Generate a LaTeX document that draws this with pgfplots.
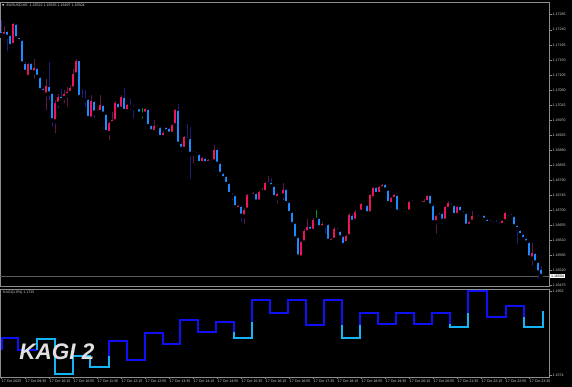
\documentclass[border=0pt]{standalone}
\usepackage{pgfplots}
\pgfplotsset{compat=1.18}
\usepackage{pgfplotstable}
\usepackage{fontspec}
\setmainfont{Liberation Sans}
\newfontfamily\dejavu{DejaVu Sans}
\definecolor{axgray}{HTML}{8C8C8C}
\definecolor{lbl}{HTML}{D2D2D2}
\definecolor{bearB}{HTML}{1E8CFF}
\definecolor{bullP}{HTML}{F0145F}
\definecolor{wickB}{HTML}{1C1C7A}
\definecolor{wickP}{HTML}{5C1A4A}
\definecolor{dojiG}{HTML}{00A000}
\definecolor{kagiB}{HTML}{1010F5}
\definecolor{kagiC}{HTML}{14B4F5}
\definecolor{pline}{HTML}{5A5A5A}
\newcommand\tf{\fontsize{3.6}{4.3}\selectfont}

% bearish candles (blue): x open high low close
\pgfplotstableread{
x o h l c
1 1.17234 1.17269 1.17222 1.17224
7 1.17234 1.17236 1.17169 1.17219
10 1.17222 1.17224 1.17188 1.17191
16 1.17254 1.17256 1.17212 1.17214
19 1.17214 1.17216 1.17204 1.17206
22 1.17206 1.17208 1.17137 1.17139
25 1.17139 1.17144 1.17109 1.17114
31 1.17139 1.17141 1.17104 1.17114
37 1.17124 1.17126 1.17094 1.17099
40 1.17096 1.17099 1.17056 1.17059
43 1.17062 1.17066 1.17049 1.17054
49 1.17069 1.17144 1.17024 1.17049
52 1.17049 1.17051 1.16944 1.16969
61 1.17039 1.17064 1.17024 1.17029
79 1.17146 1.17148 1.17036 1.17039
82 1.17039 1.17064 1.17029 1.17032
85 1.17034 1.17059 1.17004 1.17029
88 1.17029 1.17032 1.16972 1.16976
94 1.17024 1.17026 1.16969 1.16992
103 1.17012 1.17014 1.16986 1.16989
106 1.16986 1.16989 1.16932 1.16934
118 1.17019 1.17022 1.16999 1.17002
124 1.17036 1.17066 1.16994 1.16997
130 1.17014 1.17032 1.16994 1.17009
133 1.17011 1.17014 1.16969 1.17006
136 1.17006 1.17009 1.16999 1.17002
139 1.17002 1.17004 1.16986 1.16989
148 1.17001 1.17004 1.16949 1.16952
151 1.16952 1.16954 1.16932 1.16936
157 1.16949 1.16954 1.16942 1.16946
160 1.16946 1.16949 1.16916 1.16919
166 1.16946 1.16949 1.16934 1.16936
169 1.16944 1.16947 1.16926 1.16929
178 1.16996 1.17019 1.16896 1.16899
181 1.16899 1.16902 1.16869 1.16884
187 1.16919 1.16959 1.16909 1.16912
190 1.16914 1.16949 1.16789 1.16869
196 1.16872 1.16874 1.16864 1.16866
199 1.16866 1.16869 1.16839 1.16841
205 1.16854 1.16856 1.16839 1.16841
211 1.16851 1.16854 1.16844 1.16846
217 1.16881 1.16884 1.16836 1.16839
220 1.16839 1.16842 1.16806 1.16809
223 1.16809 1.16812 1.16794 1.16796
226 1.16799 1.16802 1.16776 1.16779
229 1.16779 1.16782 1.16746 1.16749
232 1.16749 1.16752 1.16724 1.16742
235 1.16742 1.16744 1.16706 1.16709
241 1.16709 1.16712 1.16659 1.16684
250 1.16749 1.16752 1.16741 1.16744
256 1.16749 1.16752 1.16722 1.16726
271 1.16782 1.16796 1.16769 1.16772
274 1.16769 1.16772 1.16736 1.16739
280 1.16749 1.16752 1.16741 1.16744
286 1.16761 1.16764 1.16719 1.16722
289 1.16722 1.16724 1.16689 1.16692
292 1.16692 1.16694 1.16656 1.16659
295 1.16659 1.16662 1.16612 1.16616
298 1.16616 1.16619 1.16549 1.16562
310 1.16649 1.16652 1.16634 1.16639
319 1.16674 1.16677 1.16646 1.16649
325 1.16656 1.16659 1.16624 1.16654
328 1.16656 1.16659 1.16606 1.16609
337 1.16642 1.16646 1.16632 1.16636
340 1.16636 1.16639 1.16616 1.16619
343 1.16619 1.16622 1.16594 1.16596
352 1.16684 1.16688 1.16662 1.16666
358 1.16696 1.16700 1.16690 1.16694
364 1.16717 1.16720 1.16708 1.16712
367 1.16712 1.16715 1.16688 1.16691
376 1.16766 1.16769 1.16746 1.16749
385 1.16776 1.16779 1.16759 1.16762
388 1.16759 1.16762 1.16719 1.16722
397 1.16744 1.16747 1.16693 1.16696
400 1.16696 1.16699 1.16679 1.16691
412 1.16726 1.16732 1.16719 1.16722
415 1.16722 1.16725 1.16714 1.16719
418 1.16722 1.16725 1.16716 1.16719
430 1.16742 1.16745 1.16711 1.16714
433 1.16714 1.16717 1.16661 1.16664
442 1.16689 1.16692 1.16654 1.16669
451 1.16719 1.16722 1.16709 1.16712
454 1.16712 1.16715 1.16683 1.16686
460 1.16711 1.16714 1.16691 1.16694
463 1.16694 1.16697 1.16686 1.16689
466 1.16689 1.16692 1.16651 1.16654
475 1.16684 1.16687 1.16676 1.16679
478 1.16682 1.16685 1.16674 1.16677
484 1.16684 1.16687 1.16669 1.16672
487 1.16672 1.16675 1.16659 1.16662
493 1.16666 1.16669 1.16656 1.16659
496 1.16662 1.16672 1.16656 1.16659
499 1.16662 1.16665 1.16653 1.16656
508 1.16682 1.16685 1.16674 1.16677
514 1.16679 1.16682 1.16649 1.16652
517 1.16652 1.16655 1.16594 1.16644
520 1.16639 1.16642 1.16623 1.16626
523 1.16626 1.16629 1.16611 1.16614
526 1.16614 1.16617 1.16601 1.16604
529 1.16604 1.16607 1.16556 1.16559
535 1.16569 1.16572 1.16541 1.16544
538 1.16544 1.16547 1.16489 1.16514
541 1.16522 1.16535 1.16497 1.16504
}\bears

% bullish candles (pink)
\pgfplotstableread{
x o h l c
4 1.17222 1.17252 1.17209 1.17234
13 1.17194 1.17259 1.17179 1.17256
28 1.17099 1.17141 1.17094 1.17139
34 1.17112 1.17154 1.17089 1.17126
46 1.17046 1.17094 1.16994 1.17072
55 1.16966 1.17029 1.16924 1.17022
58 1.17019 1.17049 1.16999 1.17039
64 1.17036 1.17059 1.17014 1.17049
67 1.17044 1.17069 1.17004 1.17054
70 1.17051 1.17074 1.17044 1.17066
73 1.17064 1.17122 1.17059 1.17109
76 1.17106 1.17154 1.17102 1.17146
91 1.16974 1.17044 1.16964 1.17026
97 1.16994 1.17004 1.16989 1.16999
100 1.16994 1.17044 1.16991 1.17014
109 1.16931 1.16964 1.16904 1.16961
112 1.16961 1.16994 1.16954 1.16969
115 1.16966 1.17026 1.16962 1.17022
121 1.17004 1.17046 1.17001 1.17039
127 1.16996 1.17018 1.16994 1.17014
145 1.16989 1.17006 1.16984 1.17004
154 1.16934 1.16969 1.16931 1.16952
163 1.16919 1.16936 1.16909 1.16932
172 1.16929 1.16959 1.16926 1.16956
175 1.16954 1.17002 1.16952 1.16999
184 1.16884 1.16922 1.16882 1.16919
193 1.16869 1.16879 1.16834 1.16872
202 1.16841 1.16859 1.16838 1.16856
208 1.16842 1.16854 1.16839 1.16852
214 1.16846 1.16894 1.16844 1.16881
238 1.16704 1.16717 1.16701 1.16714
244 1.16682 1.16706 1.16654 1.16702
247 1.16702 1.16750 1.16699 1.16747
253 1.16744 1.16756 1.16741 1.16752
259 1.16726 1.16759 1.16724 1.16756
262 1.16754 1.16766 1.16751 1.16762
265 1.16754 1.16786 1.16751 1.16782
268 1.16779 1.16802 1.16776 1.16786
277 1.16736 1.16752 1.16714 1.16749
283 1.16744 1.16782 1.16724 1.16761
301 1.16559 1.16609 1.16554 1.16606
304 1.16604 1.16644 1.16601 1.16639
307 1.16634 1.16674 1.16631 1.16649
313 1.16639 1.16676 1.16636 1.16672
322 1.16649 1.16664 1.16646 1.16659
331 1.16606 1.16617 1.16599 1.16614
334 1.16612 1.16649 1.16609 1.16644
346 1.16602 1.16626 1.16592 1.16622
349 1.16622 1.16691 1.16619 1.16686
355 1.16669 1.16700 1.16666 1.16696
361 1.16696 1.16722 1.16693 1.16719
370 1.16691 1.16749 1.16688 1.16746
373 1.16736 1.16769 1.16734 1.16766
379 1.16749 1.16774 1.16746 1.16769
382 1.16766 1.16779 1.16763 1.16776
391 1.16719 1.16739 1.16716 1.16736
394 1.16734 1.16749 1.16731 1.16746
406 1.16689 1.16699 1.16686 1.16696
409 1.16696 1.16729 1.16693 1.16726
421 1.16719 1.16728 1.16716 1.16724
424 1.16719 1.16733 1.16716 1.16729
427 1.16724 1.16745 1.16721 1.16742
436 1.16664 1.16685 1.16624 1.16682
439 1.16682 1.16692 1.16679 1.16689
445 1.16669 1.16712 1.16666 1.16709
448 1.16704 1.16729 1.16701 1.16722
457 1.16686 1.16714 1.16683 1.16711
469 1.16654 1.16669 1.16644 1.16666
472 1.16666 1.16699 1.16663 1.16684
481 1.16679 1.16687 1.16676 1.16684
490 1.16662 1.16670 1.16659 1.16667
502 1.16656 1.16670 1.16653 1.16667
505 1.16667 1.16695 1.16664 1.16692
511 1.16679 1.16689 1.16676 1.16684
532 1.16556 1.16604 1.16529 1.16574
}\bulls

% doji candles (green)
\pgfplotstableread{
x o h l c
142 1.16989 1.17006 1.16969 1.16987
316 1.16674 1.16702 1.16666 1.16672
403 1.16694 1.16699 1.16679 1.16691
}\dojis

% current price line
\pgfplotstableread{
x p
0 1.16504
549 1.16504
}\pricel

% Kagi line, yang (blue) runs
\pgfplotstableread{
x v
2 1.16865
2 1.17405
18 1.17405
18 1.16865
37 1.16865
37 nan
109 1.16595
109 1.17270
127 1.17270
127 1.16415
145 1.16415
145 1.17630
163 1.17630
163 1.17135
180 1.17135
180 1.18215
198 1.18215
198 1.17675
216 1.17675
216 1.18125
234 1.18125
234 1.17675
234 nan
252 1.18125
252 1.19115
270 1.19115
270 1.18530
288 1.18530
288 1.19115
306 1.19115
306 1.17990
324 1.17990
324 1.19115
342 1.19115
342 1.17990
342 nan
360 1.17990
360 1.18530
378 1.18530
378 1.18035
396 1.18035
396 1.18530
414 1.18530
414 1.18035
432 1.18035
432 1.18530
450 1.18530
450 1.18035
450 nan
468 1.18530
468 1.19520
487 1.19520
487 1.18350
506 1.18350
506 1.18845
524 1.18845
524 1.18350
}\kagiyang

% Kagi line, yin (cyan) runs
\pgfplotstableread{
x v
37 1.16865
37 1.17360
55 1.17360
55 1.15785
73 1.15785
73 1.16595
90 1.16595
90 1.16100
109 1.16100
109 1.16595
109 nan
234 1.17675
234 1.17405
252 1.17405
252 1.18125
252 nan
342 1.17990
342 1.17405
360 1.17405
360 1.17990
360 nan
450 1.18035
450 1.17900
468 1.17900
468 1.18530
468 nan
524 1.18350
524 1.17900
543 1.17900
543 1.18620
}\kagiyin

\begin{document}
\begin{tikzpicture}
\fill[black] (0pt,0pt) rectangle (572pt,387pt);

% ---------------- price panel (y plotted as price - 1.16) ----------------
\begin{axis}[at={(0pt,101pt)}, anchor=south west, scale only axis,
  width=549pt, height=284pt,
  xmin=0, xmax=549, ymin=0.00474, ymax=0.01323,
  clip=false, scaled ticks=false,
  axis line style={draw=axgray, line width=0.7pt},
  xtick=\empty,
  ytick={0.00475,0.00520,0.00565,0.00610,0.00655,0.00700,0.00745,0.00790,0.00835,0.00880,0.00925,0.00970,0.01015,0.01060,0.01105,0.01150,0.01195,0.01240,0.01285},
  yticklabels={1.16475,1.16520,1.16565,1.16610,1.16655,1.16700,1.16745,1.16790,1.16835,1.16880,1.16925,1.16970,1.17015,1.17060,1.17105,1.17150,1.17195,1.17240,1.17285},
  ytick pos=right, yticklabel pos=right,
  tick align=outside, major tick length=2.5pt,
  tick style={draw=axgray, line width=0.5pt},
  yticklabel style={font=\tf, text=lbl, inner sep=1pt},
]
\addplot[pline, line width=0.6pt, mark=none] table[x=x, y expr=\thisrow{p}-1.16] {\pricel};
% wicks
\addplot[only marks, mark=none, error bars/.cd, y dir=plus, y explicit, error mark=none,
  error bar style={draw=wickB, line width=0.8pt}]
  table[x=x, y expr=\thisrow{l}-1.16, y error expr=\thisrow{h}-\thisrow{l}] {\bears};
\addplot[only marks, mark=none, error bars/.cd, y dir=plus, y explicit, error mark=none,
  error bar style={draw=wickP, line width=0.8pt}]
  table[x=x, y expr=\thisrow{l}-1.16, y error expr=\thisrow{h}-\thisrow{l}] {\bulls};
\addplot[only marks, mark=none, error bars/.cd, y dir=plus, y explicit, error mark=none,
  error bar style={draw=dojiG, line width=0.8pt}]
  table[x=x, y expr=\thisrow{l}-1.16, y error expr=\thisrow{h}-\thisrow{l}] {\dojis};
% bodies
\addplot[only marks, mark=none, error bars/.cd, y dir=plus, y explicit, error mark=none,
  error bar style={draw=bearB, line width=2.1pt}]
  table[x=x, y expr=\thisrow{c}-1.16, y error expr=\thisrow{o}-\thisrow{c}] {\bears};
\addplot[only marks, mark=none, error bars/.cd, y dir=plus, y explicit, error mark=none,
  error bar style={draw=bullP, line width=2.1pt}]
  table[x=x, y expr=\thisrow{o}-1.16, y error expr=\thisrow{c}-\thisrow{o}] {\bulls};
\addplot[only marks, mark=none, error bars/.cd, y dir=plus, y explicit, error mark=none,
  error bar style={draw=dojiG, line width=2.1pt}]
  table[x=x, y expr=\thisrow{c}-1.16, y error expr=\thisrow{o}-\thisrow{c}] {\dojis};
\node[fill=white, text=black, font=\tf, anchor=west, inner sep=0.9pt] at (axis cs:550,0.00504) {1.16504};
\end{axis}

% ---------------- Kagi panel (y plotted as value - 1.15) ----------------
\begin{axis}[at={(0pt,10pt)}, anchor=south west, scale only axis,
  width=549pt, height=88pt,
  xmin=0, xmax=549, ymin=0.0065, ymax=0.0461,
  clip=false, scaled ticks=false,
  axis line style={draw=axgray, line width=0.7pt},
  xtick={1,25,...,529},
  xticklabels={17 Oct 2025,17 Oct 09:35,17 Oct 10:15,17 Oct 10:55,17 Oct 11:35,17 Oct 12:15,17 Oct 12:55,17 Oct 13:35,17 Oct 14:15,17 Oct 14:55,17 Oct 15:35,17 Oct 16:15,17 Oct 16:55,17 Oct 17:35,17 Oct 18:15,17 Oct 18:55,17 Oct 19:35,17 Oct 20:15,17 Oct 20:55,17 Oct 21:35,17 Oct 22:15,17 Oct 22:55,17 Oct 23:35},
  xtick pos=left,
  ytick={0.0074,0.0452}, yticklabels={1.1574,1.1952},
  ytick pos=right, yticklabel pos=right,
  tick align=outside, major tick length=2.5pt,
  tick style={draw=axgray, line width=0.5pt},
  xticklabel style={font=\tf, text=lbl, anchor=north west, inner sep=0.6pt},
  yticklabel style={font=\tf, text=lbl, inner sep=1pt},
  unbounded coords=jump,
]
\addplot[kagiB, line width=2.5pt, mark=none, line join=miter] table[x=x, y expr=\thisrow{v}-1.15] {\kagiyang};
\addplot[kagiC, line width=2.5pt, mark=none, line join=miter] table[x=x, y expr=\thisrow{v}-1.15] {\kagiyin};
\end{axis}

% texts
\node[anchor=west, font=\tf, text=lbl, inner sep=0] at (2pt,382pt)
  {{\dejavu\fontsize{3}{3}\selectfont ▼}\ \ EURUSD,M5\ \ 1.16522 1.16535 1.16497 1.16504};
\node[anchor=north west, font=\tf, text=lbl, inner sep=0] at (3pt,96pt) {KAGI(1.0\%) 1.1725};
\node[font=\fontsize{22.5}{24}\selectfont\bfseries\itshape, text=white!88!black, inner sep=0] at (57pt,35pt) {KAGI 2};

\pgfresetboundingbox
\path[use as bounding box] (0pt,0pt) rectangle (572pt,387pt);
\end{tikzpicture}
\end{document}
